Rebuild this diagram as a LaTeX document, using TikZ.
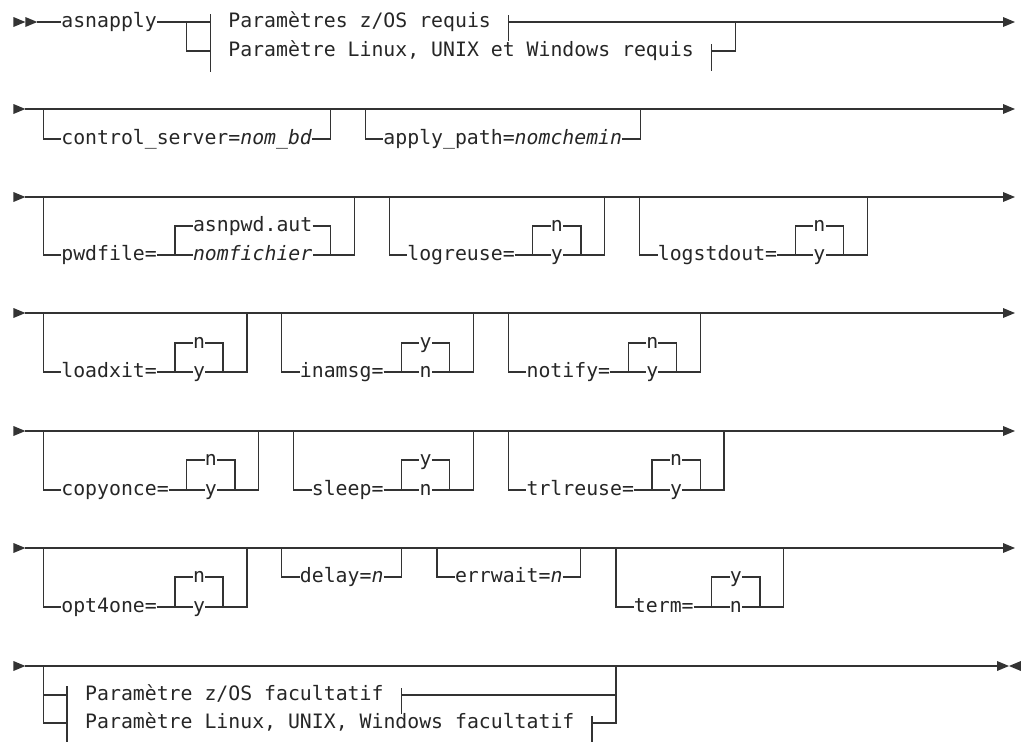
\documentclass[tikz,border=0pt]{standalone}
\usepackage{fontspec}
\setmainfont{DejaVu Sans Mono}
\usetikzlibrary{calc}
\definecolor{ink}{HTML}{262626}
\definecolor{rail}{HTML}{333333}
\tikzset{
  lbl/.style={inner sep=0pt, text height=15pt, text depth=4pt, anchor=west,
    text=ink, font=\fontsize{19.82}{22}\selectfont},
  rl/.style={draw=rail, line width=1.25pt},
}
% arrow heads of the rails: tip at column #1, rail at height #2
\newcommand\railtip[2]{\fill[rail] (#1-1,#2-5) -- (#1,#2) -- (#1-1,#2+5) -- cycle;}
\newcommand\railback[2]{\fill[rail] (#1+1,#2-5) -- (#1,#2) -- (#1+1,#2+5) -- cycle;}
% optional item: name, left column, main rail, item rail, text
\newcommand\optsimple[5]{%
  \node[lbl] (#1) at (#2+1.5,#4) {#5};
  \draw[rl] (#2,#3) |- (#1.west);
  \draw[rl] (#1.east) -- ++(1.5,0) -- ++(0,#3-#4);
}
% optional keyword with a choice of two values:
% name, left column, main rail, default rail, keyword rail, keyword, default, other
\newcommand\optchoice[8]{%
  \node[lbl] (#1k) at (#2+1.5,#5) {#6};
  \coordinate (#1c) at ($(#1k.east)+(1.5,0)$);
  \node[lbl] (#1a) at ($(#1c)+(1.5,#4-#5)$) {#7};
  \node[lbl] (#1b) at ($(#1c)+(1.5,0)$) {#8};
  \coordinate (#1d) at ($(#1b.east)+(1.5,0)$);
  \draw[rl] (#2,#3) |- (#1k.west);
  \draw[rl] (#1k.east) -- (#1b.west);
  \draw[rl] (#1c) |- (#1a.west);
  \draw[rl] (#1a.east) -| (#1d) -- (#1b.east);
  \draw[rl] (#1d) -- ++(2,0) -- ++(0,#3-#5);
}
\begin{document}
\begin{tikzpicture}[x=11.93pt,y=-1pt]
\useasboundingbox (-0.1257,0) rectangle (85.457,742);

% ---- asnapply and the required parameter fragments
\railtip{2}{22}\railtip{3}{22}
\node[lbl] (cmd) at (5,22) {asnapply};
\draw[rl] (3,22) -- (cmd.west);
\node[lbl] (zreq) at (19,22) {Paramètres z/OS requis};
\node[lbl] (lreq) at (19,51) {Paramètre Linux, UNIX et Windows requis};
\draw[rl] (cmd.east) -- (17.5,22);
\draw[rl] (15.5,22) |- (17.5,51);
\draw[rl] (17.5,14) -- (17.5,72);
\draw[rl] (42.5,15) -- (42.5,41);
\draw[rl] (42.5,22) -- (83.95,22);
\draw[rl] (59.5,44) -- (59.5,71);
\draw[rl] (59.5,51) -| (61.5,22);
\railtip{84.95}{22}

% ---- control_server, apply_path
\railtip{2}{109}
\draw[rl] (2,109) -- (83.95,109);
\railtip{84.95}{109}
\optsimple{cs}{3.5}{109}{139}{control\_server=\textit{nom\_bd}}
\optsimple{ap}{30.5}{109}{139}{apply\_path=\textit{nomchemin}}

% ---- pwdfile, logreuse, logstdout
\railtip{2}{197}
\draw[rl] (2,197) -- (83.95,197);
\railtip{84.95}{197}
\optchoice{pw}{3.5}{197}{226}{255}{pwdfile=}{asnpwd.aut}{\textit{nomfichier}}
\optchoice{lr}{32.5}{197}{226}{255}{logreuse=}{n}{y}
\optchoice{ls}{53.5}{197}{226}{255}{logstdout=}{n}{y}

% ---- loadxit, inamsg, notify
\railtip{2}{313}
\draw[rl] (2,313) -- (83.95,313);
\railtip{84.95}{313}
\optchoice{lx}{3.5}{313}{343}{372}{loadxit=}{n}{y}
\optchoice{im}{23.5}{313}{343}{372}{inamsg=}{y}{n}
\optchoice{nt}{42.5}{313}{343}{372}{notify=}{n}{y}

% ---- copyonce, sleep, trlreuse
\railtip{2}{431}
\draw[rl] (2,431) -- (83.95,431);
\railtip{84.95}{431}
\optchoice{co}{3.5}{431}{460}{490}{copyonce=}{n}{y}
\optchoice{sl}{24.5}{431}{460}{490}{sleep=}{y}{n}
\optchoice{tr}{42.5}{431}{460}{490}{trlreuse=}{n}{y}

% ---- opt4one, delay, errwait, term
\railtip{2}{548}
\draw[rl] (2,548) -- (83.95,548);
\railtip{84.95}{548}
\optchoice{oo}{3.5}{548}{577}{607}{opt4one=}{n}{y}
\optsimple{dl}{23.5}{548}{577}{delay=\textit{n}}
\optsimple{ew}{36.5}{548}{577}{errwait=\textit{n}}
\optchoice{tm}{51.5}{548}{577}{607}{term=}{y}{n}

% ---- optional parameter fragments and end of statement
\railtip{2}{666}
\draw[rl] (2,666) -- (83.45,666);
\railtip{84.45}{666}\railback{84.45}{666}
\node[lbl] (zopt) at (7,695) {Paramètre z/OS facultatif};
\node[lbl] (lopt) at (7,723) {Paramètre Linux, UNIX, Windows facultatif};
\draw[rl] (3.5,666) |- (5.5,723);
\draw[rl] (3.5,695) -- (5.5,695);
\draw[rl] (5.5,686) -- (5.5,742);
\draw[rl] (33.5,688) -- (33.5,714);
\draw[rl] (33.5,695) -| (51.5,666);
\draw[rl] (49.5,716) -- (49.5,742);
\draw[rl] (49.5,723) -| (51.5,695);
\draw[draw=rail, line width=2.4pt] (52.35,666) -- (54.36,666);
\end{tikzpicture}
\end{document}
